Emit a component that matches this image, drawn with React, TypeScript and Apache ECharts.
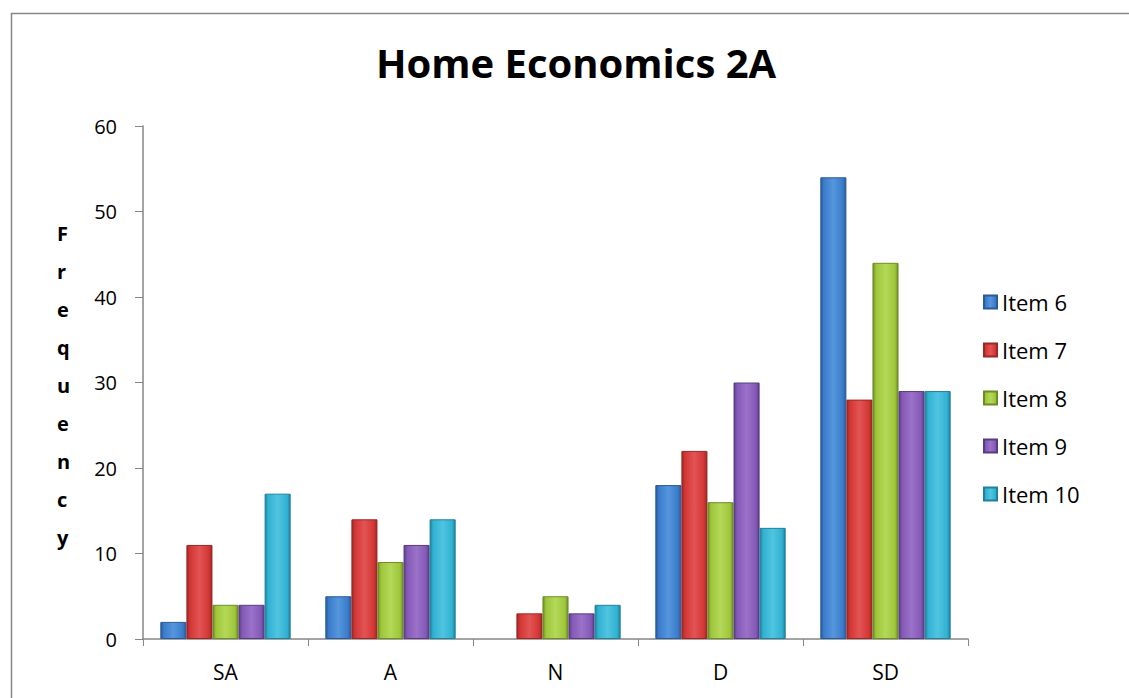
import React, { useEffect, useRef } from "react";
import * as echarts from "echarts";

const categories = ["SA", "A", "N", "D", "SD"];
const seriesNames = ["Item 6", "Item 7", "Item 8", "Item 9", "Item 10"];
const item6 = [2, 5, 0, 18, 54];
const item7 = [11, 14, 3, 22, 28];
const item8 = [4, 9, 5, 16, 44];
const item9 = [4, 11, 3, 30, 29];
const item10 = [17, 14, 4, 13, 29];
const yTicks = [0, 10, 20, 30, 40, 50, 60];

const palette = [
  { dark: "#2a5a98", mid: "#3a7ccc", light: "#5596dc" },
  { dark: "#9a2826", mid: "#d33634", light: "#e25454" },
  { dark: "#6c8c28", mid: "#9fc63a", light: "#b4d858" },
  { dark: "#573d80", mid: "#8558b8", light: "#9a72c8" },
  { dark: "#21809a", mid: "#30b2d2", light: "#50c4e0" },
];

function grad(c: { dark: string; mid: string; light: string }) {
  return new echarts.graphic.LinearGradient(0, 0, 1, 0, [
    { offset: 0, color: c.dark },
    { offset: 0.12, color: c.mid },
    { offset: 0.5, color: c.light },
    { offset: 0.88, color: c.mid },
    { offset: 1, color: c.dark },
  ]);
}

export default function App() {
  const ref = useRef<HTMLDivElement>(null);
  useEffect(() => {
    if (!ref.current) return;
    const chart = echarts.init(ref.current, null, { renderer: "svg" });
    const data = [item6, item7, item8, item9, item10];
    const font = "'Open Sans', 'Noto Sans', sans-serif";
    chart.setOption({
      animation: false,
      backgroundColor: "#ffffff",
      textStyle: { fontFamily: font },
      title: {
        text: "Home Economics 2A",
        left: 571,
        textAlign: "center",
        top: 37,
        textStyle: { fontSize: 40, fontWeight: "bold", color: "#000", fontFamily: font },
      },
      graphic: [
        {
          type: "rect",
          shape: { x: 11.5, y: 13.5, width: 1140, height: 700 },
          style: { fill: "none", stroke: "#868686", lineWidth: 1.5 },
          silent: true,
        },
        {
          type: "text",
          left: 57,
          top: 215,
          style: {
            text: "F\nr\ne\nq\nu\ne\nn\nc\ny",
            font: "bold 20px " + font,
            lineHeight: 37.9,
            align: "center",
            fill: "#000",
          },
        },
      ],
      legend: {
        orient: "vertical",
        left: 978,
        top: 286,
        itemWidth: 13,
        itemHeight: 13,
        itemGap: 26,
        icon: "rect",
        textStyle: { fontSize: 22, lineHeight: 20, color: "#000", fontFamily: font },
        data: seriesNames,
      },
      grid: { left: 143, right: 161, top: 126, bottom: 59, containLabel: false },
      xAxis: {
        type: "category",
        data: categories,
        axisLine: { lineStyle: { color: "#868686", width: 1.5 } },
        axisTick: { show: true, length: 7, lineStyle: { color: "#868686" } },
        axisLabel: { fontSize: 21, color: "#000", margin: 22, fontFamily: font },
      },
      yAxis: {
        type: "value",
        min: 0,
        max: 60,
        interval: 10,
        axisLine: { show: true, lineStyle: { color: "#868686", width: 1.5 } },
        axisTick: { show: true, length: 8, lineStyle: { color: "#868686" } },
        splitLine: { show: false },
        axisLabel: {
          fontSize: 20,
          color: "#000",
          margin: 26,
          fontFamily: font,
          formatter: (v: number) => (yTicks.includes(v) ? String(v) : ""),
        },
      },
      series: seriesNames.map((name, i) => ({
        name,
        type: "bar",
        data: data[i].map((v) =>
          v === 0 ? { value: v, itemStyle: { borderWidth: 0 } } : v
        ),
        barGap: "0%",
        barCategoryGap: "21%",
        itemStyle: {
          color: grad(palette[i]),
          borderColor: palette[i].dark,
          borderWidth: 1,
        },
      })),
    });
    return () => chart.dispose();
  }, []);
  return (
    <div
      ref={ref}
      style={{ position: "fixed", left: 0, top: 0, width: 1129, height: 698 }}
    />
  );
}
